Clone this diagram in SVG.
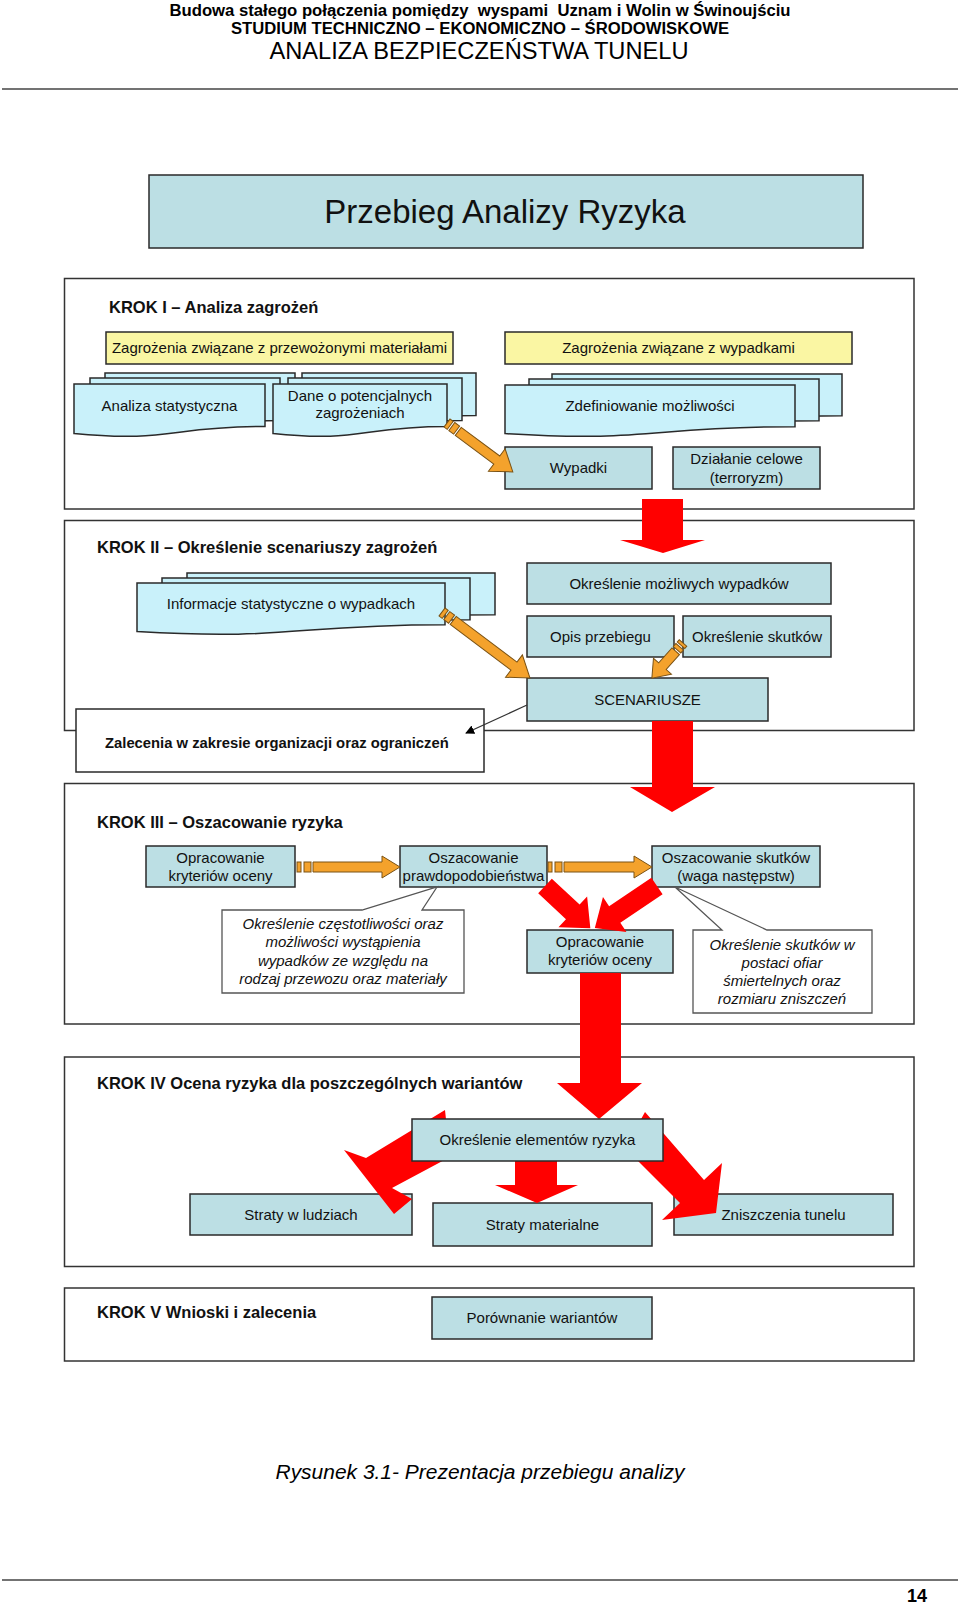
<svg xmlns="http://www.w3.org/2000/svg" width="960" height="1607" viewBox="0 0 960 1607">
<style>
.sec{fill:#fff;stroke:#333;stroke-width:1.5}
.box{fill:#bcdfe4;stroke:#2a2a2a;stroke-width:1.5}
.yel{fill:#faf6a3;stroke:#2a2a2a;stroke-width:1.5}
.doc{fill:#c9f1fa;stroke:#2a2a2a;stroke-width:1.5}
.call{fill:#fff;stroke:#555;stroke-width:1.3}
.t{font-family:"Liberation Sans",Arial,sans-serif;font-size:15px;fill:#111;text-anchor:middle}
.ti{font-family:"Liberation Sans",Arial,sans-serif;font-size:15px;font-style:italic;fill:#111;text-anchor:middle}
.h{font-family:"Liberation Sans",Arial,sans-serif;font-size:16.5px;font-weight:bold;fill:#111}
.big{font-size:33px}
.zal{font-size:14.8px}
.hd{font-family:"Liberation Sans",Arial,sans-serif;fill:#000;text-anchor:middle}
.red{fill:#ff0000}
.org{fill:#f4a22c;stroke:#7a5214;stroke-width:1}
.thin{stroke:#333;stroke-width:1.2;fill:none}
</style>
<defs>
<marker id="ah" viewBox="0 0 10 10" refX="9" refY="5" markerWidth="9" markerHeight="9" markerUnits="userSpaceOnUse" orient="auto">
<path d="M0,0 L10,5 L0,10 Z" fill="#000"/>
</marker>
</defs>

<g id="header">
<text class="hd" x="480" y="16" font-size="16" font-weight="bold" textLength="621" lengthAdjust="spacingAndGlyphs" xml:space="preserve">Budowa stałego połączenia pomiędzy  wyspami  Uznam i Wolin w Świnoujściu</text>
<text class="hd" x="480" y="34" font-size="16" font-weight="bold" textLength="498" lengthAdjust="spacingAndGlyphs">STUDIUM TECHNICZNO – EKONOMICZNO – ŚRODOWISKOWE</text>
<text class="hd" x="479" y="59" font-size="23" textLength="419" lengthAdjust="spacingAndGlyphs">ANALIZA BEZPIECZEŃSTWA TUNELU</text>
<line x1="2" y1="89" x2="958" y2="89" stroke="#444" stroke-width="1.5"/>
</g>

<g id="title">
<rect x="149" y="175" width="714" height="73" class="box"/>
<text class="t big" x="505" y="223">Przebieg Analizy Ryzyka</text>
</g>

<g id="sections">
<rect id="krok1" x="64.5" y="278.5" width="849.5" height="230.5" class="sec"/>
<rect id="krok2" x="64.5" y="520.5" width="849.5" height="210" class="sec"/>
<rect id="krok3" x="64.5" y="783.5" width="849.5" height="240.5" class="sec"/>
<rect id="krok4" x="64.5" y="1057" width="849.5" height="209.5" class="sec"/>
<rect id="krok5" x="64.5" y="1288" width="849.5" height="73" class="sec"/>
<text class="h" x="109" y="313">KROK I – Analiza zagrożeń</text>
<text class="h" x="97" y="553">KROK II – Określenie scenariuszy zagrożeń</text>
<text class="h" x="97" y="828">KROK III – Oszacowanie ryzyka</text>
<text class="h" x="97" y="1089">KROK IV Ocena ryzyka dla poszczególnych wariantów</text>
<text class="h" x="97" y="1318">KROK V Wnioski i zalecenia</text>
</g>

<g id="n-zag-mat">
<rect x="106" y="332" width="347" height="32" class="yel"/>
<text class="t" x="279.5" y="353">Zagrożenia związane z przewożonymi materiałami</text>
</g>
<g id="n-zag-wyp">
<rect x="505" y="332" width="347" height="32" class="yel"/>
<text class="t" x="678.5" y="353">Zagrożenia związane z wypadkami</text>
</g>
<g id="n-analiza-stat">
<path class="doc" d="M105 373 H295 V415.5 C200 415.5 200 431.7 105 422.5 Z"/>
<path class="doc" d="M90 378 H280 V420.5 C185 420.5 185 436.7 90 427.5 Z"/>
<path class="doc" d="M74 384 H265 V426.5 C169.5 426.5 169.5 442.7 74 433.5 Z"/>
<text class="t" x="169.5" y="411">Analiza statystyczna</text>
</g>
<g id="n-dane">
<path class="doc" d="M302 373 H476 V415.5 C389 415.5 389 431.7 302 422.5 Z"/>
<path class="doc" d="M288 378 H462 V420.5 C375 420.5 375 436.7 288 427.5 Z"/>
<path class="doc" d="M273 384 H447 V426.5 C360 426.5 360 442.7 273 433.5 Z"/>
<text class="t" x="360" y="401">Dane o potencjalnych</text>
<text class="t" x="360" y="418">zagrożeniach</text>
</g>
<g id="n-zdef">
<path class="doc" d="M552 374 H842 V415.7 C697 415.7 697 431.6 552 422.6 Z"/>
<path class="doc" d="M529 379 H819 V420.7 C674 420.7 674 436.6 529 427.6 Z"/>
<path class="doc" d="M505 385 H795 V426.7 C650 426.7 650 442.6 505 433.6 Z"/>
<text class="t" x="650" y="411">Zdefiniowanie możliwości</text>
</g>
<g id="n-wypadki">
<rect x="505" y="447" width="147" height="42" class="box"/>
<text class="t" x="578.5" y="473">Wypadki</text>
</g>
<g id="n-dzialanie">
<rect x="673" y="447" width="147" height="42" class="box"/>
<text class="t" x="746.5" y="464">Działanie celowe</text>
<text class="t" x="746.5" y="483">(terroryzm)</text>
</g>

<g id="n-info">
<path class="doc" d="M187 573 H495 V614.7 C341 614.7 341 630.6 187 621.6 Z"/>
<path class="doc" d="M162 578 H470 V619.7 C316 619.7 316 635.6 162 626.6 Z"/>
<path class="doc" d="M137 583 H445 V624.7 C291 624.7 291 640.6 137 631.6 Z"/>
<text class="t" x="291" y="609">Informacje statystyczne o wypadkach</text>
</g>
<g id="n-okr-mozl">
<rect x="527" y="563" width="304" height="41" class="box"/>
<text class="t" x="679" y="589">Określenie możliwych wypadków</text>
</g>
<g id="n-opis">
<rect x="527" y="616" width="147" height="41" class="box"/>
<text class="t" x="600.5" y="642">Opis przebiegu</text>
</g>
<g id="n-okr-skut">
<rect x="683" y="616" width="148" height="41" class="box"/>
<text class="t" x="757" y="642">Określenie skutków</text>
</g>
<g id="n-scen">
<rect x="527" y="678" width="241" height="43" class="box"/>
<text class="t" x="647.5" y="705">SCENARIUSZE</text>
</g>
<g id="n-zalecenia">
<rect x="76" y="709" width="408" height="63" fill="#fff" stroke="#2a2a2a" stroke-width="1.5"/>
<text class="h zal" x="105" y="748">Zalecenia w zakresie organizacji oraz ograniczeń</text>
</g>

<g id="n-oprac1">
<rect x="146" y="846" width="149" height="41" class="box"/>
<text class="t" x="220.5" y="863">Opracowanie</text>
<text class="t" x="220.5" y="881">kryteriów oceny</text>
</g>
<g id="n-osz-prawd">
<rect x="400" y="846" width="147" height="41" class="box"/>
<text class="t" x="473.5" y="863">Oszacowanie</text>
<text class="t" x="473.5" y="881">prawdopodobieństwa</text>
</g>
<g id="n-osz-skut">
<rect x="652" y="846" width="168" height="41" class="box"/>
<text class="t" x="736" y="863">Oszacowanie skutków</text>
<text class="t" x="736" y="881">(waga następstw)</text>
</g>
<g id="n-callout1">
<path class="call" d="M222 910 L362 910 L437 887 L422 910 L464 910 L464 993 L222 993 Z"/>
<text class="ti" x="343" y="929">Określenie częstotliwości oraz</text>
<text class="ti" x="343" y="947">możliwości wystąpienia</text>
<text class="ti" x="343" y="966">wypadków ze względu na</text>
<text class="ti" x="343" y="984">rodzaj przewozu oraz materiały</text>
</g>
<g id="n-oprac2">
<rect x="527" y="930" width="146" height="43" class="box"/>
<text class="t" x="600" y="947">Opracowanie</text>
<text class="t" x="600" y="965">kryteriów oceny</text>
</g>
<g id="n-callout2">
<path class="call" d="M693 930 L722 930 L675 887 L767 930 L872 930 L872 1013 L693 1013 Z"/>
<text class="ti" x="782" y="950">Określenie skutków w</text>
<text class="ti" x="782" y="968">postaci ofiar</text>
<text class="ti" x="782" y="986">śmiertelnych oraz</text>
<text class="ti" x="782" y="1004">rozmiaru zniszczeń</text>
</g>

<g id="n-straty-ludzie">
<rect x="190" y="1194" width="222" height="41" class="box"/>
<text class="t" x="301" y="1220">Straty w ludziach</text>
</g>
<g id="n-straty-mat">
<rect x="433" y="1203" width="219" height="43" class="box"/>
<text class="t" x="542.5" y="1230">Straty materialne</text>
</g>
<g id="n-zniszczenia">
<rect x="674" y="1194" width="219" height="41" class="box"/>
<text class="t" x="783.5" y="1220">Zniszczenia tunelu</text>
</g>
<g id="n-porownanie">
<rect x="432" y="1297" width="220" height="42" class="box"/>
<text class="t" x="542" y="1323">Porównanie wariantów</text>
</g>

<g id="connectors">
<polygon class="red" points="642,499 683,499 683,540 705,540 663,553 620,540 642,540"/>
<polygon class="red" points="652,721 693,721 693,787 715,787 672,812 630,787 652,787"/>
<polygon class="red" points="580,973 621,973 621,1083 642,1083 599,1119 557,1083 580,1083"/>
<polygon class="red" points="515,1161 557,1161 557,1185 578,1185 537,1203 495,1185 515,1185"/>
<polygon class="red" points="445,1110 366,1158 344,1150 394,1214 412,1199 392,1188 450,1157"/>
<polygon class="red" points="645,1112 704,1180 722,1163 716,1213 662,1220 680,1203 625,1148"/>
<g transform="translate(545,886) rotate(43)">
<polygon class="red" points="0,-10 38,-10 38,-21 62,0 38,21 38,10 0,10"/>
</g>
<g transform="translate(657,886) rotate(146)">
<polygon class="red" points="0,-10 51,-10 51,-21 75,0 51,21 51,10 0,10"/>
</g>
<g transform="translate(297,867)">
<rect class="org" x="0" y="-5" width="4" height="10"/>
<rect class="org" x="7" y="-5" width="7" height="10"/>
<polygon class="org" points="16,-5 85,-5 85,-11 103,0 85,11 85,5 16,5"/>
</g>
<g transform="translate(548,867)">
<rect class="org" x="0" y="-5" width="4" height="10"/>
<rect class="org" x="7" y="-5" width="7" height="10"/>
<polygon class="org" points="16,-5 86,-5 86,-11 104,0 86,11 86,5 16,5"/>
</g>
<g transform="translate(447,423) rotate(36.6)">
<rect class="org" x="0" y="-5" width="4" height="10"/>
<rect class="org" x="6" y="-5" width="6" height="10"/>
<polygon class="org" points="14,-5 62,-5 62,-14 82,0 62,14 62,5 14,5"/>
</g>
<g transform="translate(442,612) rotate(36.9)">
<rect class="org" x="0" y="-5" width="4" height="10"/>
<rect class="org" x="6" y="-5" width="6" height="10"/>
<polygon class="org" points="14,-5 90,-5 90,-14 110,0 90,14 90,5 14,5"/>
</g>
<g transform="translate(683,643) rotate(131.5)">
<rect class="org" x="0" y="-5" width="3" height="10"/>
<rect class="org" x="5" y="-5" width="4" height="10"/>
<polygon class="org" points="11,-5 31,-5 31,-12 47,0 31,12 31,5 11,5"/>
</g>
<line class="thin" x1="527" y1="705" x2="466" y2="733" marker-end="url(#ah)"/>
</g>

<g id="n-okr-elem">
<rect x="412" y="1119" width="251" height="42" class="box"/>
<text class="t" x="537.5" y="1145">Określenie elementów ryzyka</text>
</g>

<g id="footer">
<text class="hd" x="480" y="1479" font-size="20" font-style="italic" textLength="409" lengthAdjust="spacingAndGlyphs">Rysunek 3.1- Prezentacja przebiegu analizy</text>
<line x1="2" y1="1580" x2="958" y2="1580" stroke="#444" stroke-width="1.5"/>
<text class="hd" x="917" y="1602" font-size="18" font-weight="bold">14</text>
</g>
</svg>
